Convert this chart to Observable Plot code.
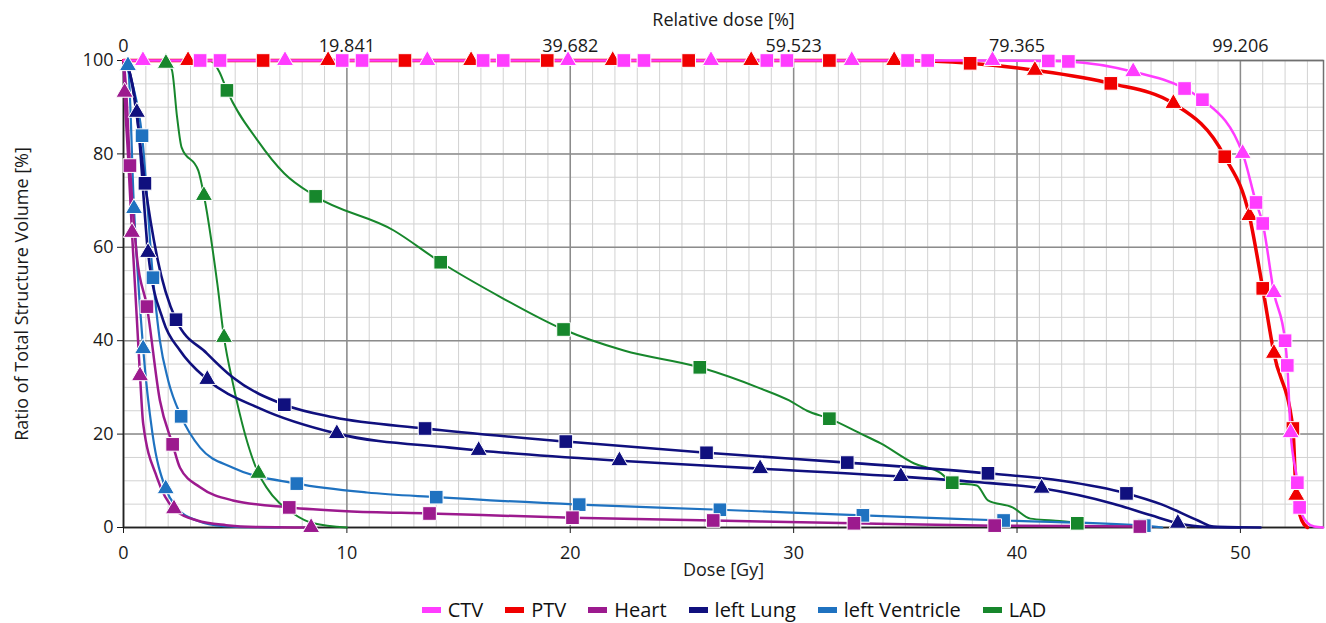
<!DOCTYPE html>
<html>
<head>
<meta charset="utf-8">
<script src="https://cdn.jsdelivr.net/npm/d3@7"></script>
<script src="https://cdn.jsdelivr.net/npm/@observablehq/plot@0.6"></script>
<style>
  html, body { margin: 0; padding: 0; background: #fff; }
  #chart svg { display: block; }
  #legend { height: 33px; display: flex; justify-content: center; align-items: flex-start;
    font-family: "Open Sans", sans-serif; font-size: 20px; line-height: 20px; color: #111;
    padding-left: 142px; padding-top: 10px; box-sizing: border-box; }
  #legend .item { display: flex; align-items: center; margin: 0 11px; height: 20px; }
  #legend .sw { width: 19px; height: 6px; margin-right: 7px; }
</style>
</head>
<body>
<div id="chart"></div>
<div id="legend"></div>
<script>
// ---- axis ticks and labels ----
const xTicks = [0, 10, 20, 30, 40, 50];
const relLabels = ["0", "19.841", "39.682", "59.523", "79.365", "99.206"];
const yTicks = [0, 20, 40, 60, 80, 100];

// ---- structures ----
const structures = ["CTV", "PTV", "Heart", "left Lung", "left Ventricle", "LAD"];
const colors = ["#ff3cff", "#f00000", "#9c1a8e", "#10107e", "#1f72c0", "#17872c"];
const lineWidths = [2.5, 3.5, 2.5, 2.6, 2.2, 2];

// ---- DVH curves: [dose Gy, volume %] ----
const ctvLine = [[0,100],[39,100],[41.4,99.9],[42.3,99.8],[45.2,97.6],[47.5,94.0],[48.3,91.6],[50.1,80.1],[50.7,69.6],[51.0,65.1],[51.5,50.3],[52.0,40.0],[52.1,34.7],[52.25,20.3],[52.55,9.6],[52.65,4.3],[53.0,1.0],[53.3,0.2],[53.7,0]];
const ptvLine = [[0,100],[35,100],[37.9,99.4],[40.8,97.9],[44.2,95.1],[47.0,90.8],[49.3,79.4],[50.4,66.8],[51.0,51.2],[51.5,37.3],[52.35,21.2],[52.5,6.9],[52.75,1.5],[53.0,0]];

const heartSqLine = [[0,100],[0.1,95],[0.29,77.5],[0.6,58],[1.05,47.3],[1.63,27.2],[2.2,17.8],[2.53,12.8],[3.43,8.6],[4.9,5.8],[7.42,4.3],[10,3.5],[13.7,3.0],[20.1,2.1],[26.4,1.5],[32.7,0.9],[39,0.4],[45.5,0.2],[46,0]];
const heartTriLine = [[0,100],[0.05,93.2],[0.2,80],[0.38,63.2],[0.74,32.5],[0.88,22.3],[1.5,10.7],[2.26,4.0],[3.3,1.5],[4.6,0.5],[6,0.1],[8.4,0]];

const lungSqLine = [[0,100],[0.3,97],[0.6,88],[0.96,73.7],[1.5,58],[2.35,44.5],[3.73,37.3],[4.9,32.1],[7.2,26.3],[9.4,23.6],[13.5,21.2],[19.8,18.4],[26.1,16.0],[32.4,13.9],[38.7,11.6],[42,10],[44.9,7.3],[46.5,4.9],[48.1,1.5],[48.8,0.2],[50.9,0]];
const lungTriLine = [[0,100],[0.3,97],[0.6,88.9],[1.1,58.9],[1.78,44.3],[2.53,37.9],[3.75,31.7],[6.1,25.5],[9.55,20.1],[14.6,17.1],[15.9,16.5],[22.2,14.3],[28.5,12.6],[34.8,10.9],[38,9.8],[41.1,8.4],[44.3,5.1],[46,2.6],[47.2,0.9],[48.5,0.1],[50,0]];

const lvSqLine = [[0,100],[0.4,95],[0.83,83.9],[1.32,53.5],[1.63,40],[2.0,31.5],[2.58,23.8],[3.43,17.1],[4.9,12.8],[7.76,9.4],[10.9,7.5],[14.0,6.5],[20.4,4.9],[26.7,3.8],[33.1,2.6],[39.4,1.5],[45.7,0.4],[46.5,0]];
const lvTriLine = [[0,100],[0.2,98.9],[0.47,68.3],[0.88,38.3],[1.3,20],[1.89,8.3],[2.38,4.3],[3.28,1.5],[4.5,0.3],[6,0.05],[7,0]];

const ladSqLine = [[0,100],[3.9,99.9],[4.3,97.5],[4.63,93.6],[6.0,82.9],[7.2,75.8],[8.6,70.9],[12.1,63.6],[14.2,56.8],[16.9,49.3],[19.7,42.4],[22.4,37.9],[25.8,34.3],[28.5,29.8],[29.8,27.2],[30.6,25],[31.6,23.3],[33,20.1],[33.9,18],[35.4,13.7],[36.6,11.6],[37.1,9.6],[38.2,9.0],[38.7,5.8],[39.8,4.3],[40.6,1.9],[41.6,1.5],[42.7,0.9],[43,0]];
const ladTriLine = [[0,100],[1.9,99.9],[2.17,97.9],[2.4,87.8],[2.6,81.4],[3.35,76.4],[3.6,71.1],[4.2,52.2],[4.5,40.7],[4.9,30.8],[6.04,11.6],[6.4,8.6],[7.6,3.0],[8.5,0.9],[10,0]];

// ---- markers: [dose Gy, volume %] ----
const ctvSquares = [[3.43,100],[4.32,100],[9.79,100],[10.68,100],[16.1,100],[17.0,100],[22.4,100],[23.3,100],[28.8,100],[29.7,100],[35.1,100],[36.0,100],[41.4,99.9],[42.3,99.8],[47.5,94.0],[48.3,91.6],[50.7,69.6],[51.0,65.1],[52.0,40.0],[52.1,34.7],[52.55,9.6],[52.65,4.3]];
const ctvTriangles = [[0.87,100],[7.23,100],[13.6,100],[19.9,100],[26.3,100],[32.6,100],[38.9,100],[45.2,97.6],[50.1,80.1],[51.5,50.3],[52.25,20.3]];
const ptvSquares = [[6.25,100],[12.6,100],[18.97,100],[25.3,100],[31.6,100],[37.9,99.4],[44.2,95.1],[49.3,79.4],[51.0,51.2],[52.35,21.2]];
const ptvTriangles = [[2.89,100],[9.16,100],[15.56,100],[21.9,100],[28.1,100],[34.5,100],[40.8,97.9],[47.0,90.8],[50.4,66.8],[51.5,37.3],[52.5,6.9]];
const heartSquares = [[0.29,77.5],[1.05,47.3],[2.2,17.8],[7.42,4.3],[13.7,3.0],[20.1,2.1],[26.4,1.5],[32.7,0.9],[39,0.4],[45.5,0.2]];
const heartTriangles = [[0.05,93.2],[0.38,63.2],[0.74,32.5],[2.26,4.0],[8.4,0]];
const lungSquares = [[0.96,73.7],[2.35,44.5],[7.2,26.3],[13.5,21.2],[19.8,18.4],[26.1,16.0],[32.4,13.9],[38.7,11.6],[44.9,7.3]];
const lungTriangles = [[0.6,88.9],[1.1,58.9],[3.75,31.7],[9.55,20.1],[15.9,16.5],[22.2,14.3],[28.5,12.6],[34.8,10.9],[41.1,8.4],[47.2,0.9]];
const lvSquares = [[0.83,83.9],[1.32,53.5],[2.58,23.8],[7.76,9.4],[14.0,6.5],[20.4,4.9],[26.7,3.8],[33.1,2.6],[39.4,1.5],[45.7,0.4]];
const lvTriangles = [[0.2,98.9],[0.47,68.3],[0.88,38.3],[1.89,8.3]];
const ladSquares = [[4.63,93.6],[8.6,70.9],[14.2,56.8],[19.7,42.4],[25.8,34.3],[31.6,23.3],[37.1,9.6],[42.7,0.9]];
const ladTriangles = [[1.9,99.4],[3.6,71.1],[4.5,40.7],[6.04,11.6]];

// ---- assemble ----
const rows = (structure, pairs) => pairs.map(([dose, vol]) => ({structure, dose, vol}));
const lineSeries = [
  ["LAD", ladSqLine], ["LAD", ladTriLine],
  ["left Ventricle", lvSqLine], ["left Ventricle", lvTriLine],
  ["Heart", heartSqLine], ["Heart", heartTriLine],
  ["left Lung", lungSqLine], ["left Lung", lungTriLine],
  ["PTV", ptvLine], ["CTV", ctvLine]
];
const markerSeries = [
  ["LAD", ladSquares, ladTriangles],
  ["left Ventricle", lvSquares, lvTriangles],
  ["Heart", heartSquares, heartTriangles],
  ["left Lung", lungSquares, lungTriangles],
  ["PTV", ptvSquares, ptvTriangles],
  ["CTV", ctvSquares, ctvTriangles]
];
const colorOf = s => colors[structures.indexOf(s)];
const widthOf = s => lineWidths[structures.indexOf(s)];

const marks = [
  Plot.gridX(d3.range(0, 54, 1), {stroke: "#d2d2d2", strokeOpacity: 1, strokeWidth: 1}),
  Plot.gridY(d3.range(0, 101, 5), {stroke: "#d2d2d2", strokeOpacity: 1, strokeWidth: 1}),
  Plot.gridX(xTicks, {stroke: "#8c8c8c", strokeOpacity: 1, strokeWidth: 1.5}),
  Plot.gridY(yTicks, {stroke: "#8c8c8c", strokeOpacity: 1, strokeWidth: 1.5}),
  Plot.frame({stroke: "#707070", strokeWidth: 1.5}),
  Plot.ruleX([0], {stroke: "#222", strokeWidth: 1.5}),
  Plot.ruleY([0], {stroke: "#222", strokeWidth: 1.5}),
  Plot.axisY(yTicks, {anchor: "left", tickSize: 6, tickPadding: 4, fontSize: 18,
    label: "Ratio of Total Structure Volume [%]", labelArrow: "none", labelAnchor: "center", labelOffset: 108}),
  Plot.axisX(xTicks, {anchor: "bottom", tickSize: 6, tickPadding: 13, fontSize: 18,
    label: "Dose [Gy]", labelArrow: "none", labelAnchor: "center", labelOffset: 48}),
  Plot.axisX(xTicks, {anchor: "top", tickSize: 0, tickPadding: 9, fontSize: 18,
    tickFormat: d => relLabels[xTicks.indexOf(d)],
    label: "Relative dose [%]", labelArrow: "none", labelAnchor: "center", labelOffset: 47})
];
for (const [s, pairs] of lineSeries) {
  marks.push(Plot.line(rows(s, pairs), {x: "dose", y: "vol", stroke: colorOf(s), strokeWidth: widthOf(s), curve: "monotone-x"}));
}
for (const [s, sq, tri] of markerSeries) {
  marks.push(Plot.dot(rows(s, sq), {x: "dose", y: "vol", symbol: "square", r: 7.7, fill: colorOf(s), stroke: "white", strokeWidth: 1}));
  marks.push(Plot.dot(rows(s, tri), {x: "dose", y: "vol", symbol: "triangle", r: 6.4, fill: colorOf(s), stroke: "white", strokeWidth: 1}));
}

const chart = Plot.plot({
  width: 1326, height: 590,
  marginTop: 60, marginBottom: 63, marginLeft: 123, marginRight: 3,
  x: {domain: [0, 53.72]},
  y: {domain: [0, 100]},
  style: {fontFamily: "Open Sans, sans-serif", fontSize: "18px", color: "#1a1a1a", background: "white", overflow: "visible"},
  marks
});
document.getElementById("chart").appendChild(chart);

const legend = document.getElementById("legend");
structures.forEach((s, i) => {
  const item = document.createElement("span");
  item.className = "item";
  const sw = document.createElement("span");
  sw.className = "sw";
  sw.style.background = colors[i];
  item.appendChild(sw);
  item.appendChild(document.createTextNode(s));
  legend.appendChild(item);
});
</script>
</body>
</html>
